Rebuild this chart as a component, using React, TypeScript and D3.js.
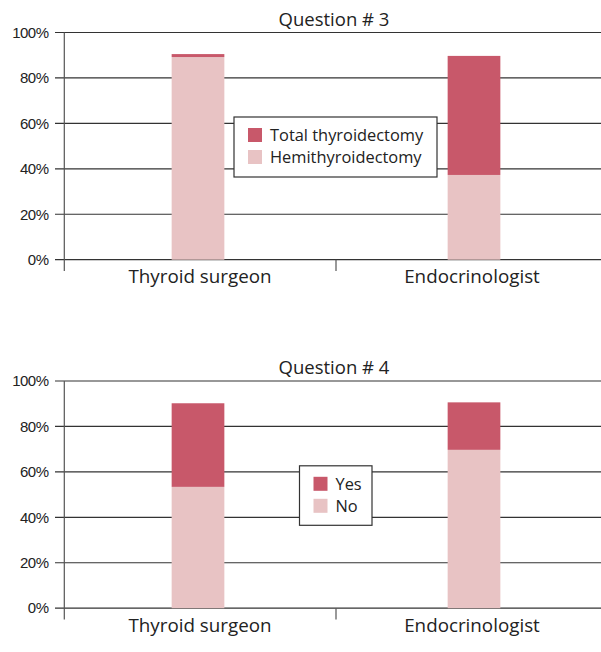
import React from "react";
import * as d3 from "d3";

const categories = ["Thyroid surgeon", "Endocrinologist"];
const yTicks = [0, 20, 40, 60, 80, 100];

const q3Title = "Question # 3";
const q3Series = ["Total thyroidectomy", "Hemithyroidectomy"];
const q3Hemi = [89.2, 37.3];
const q3Total = [1.3, 52.4];

const q4Title = "Question # 4";
const q4Series = ["Yes", "No"];
const q4No = [53.4, 69.7];
const q4Yes = [36.8, 20.9];

const DARK = "#C8586A";
const LIGHT = "#E8C3C4";

type PanelProps = {
  title: string;
  series: string[];
  lower: number[];
  upper: number[];
  offsetY: number;
  legend: { x: number; y: number; w: number; h: number };
};

function Panel({ title, series, lower, upper, offsetY, legend }: PanelProps) {
  const y = d3.scaleLinear().domain([0, 100]).range([259.7, 32.5]);
  const x = d3.scaleBand<string>().domain(categories).range([60, 612]);
  const barW = 52.7;
  const tickFont = "'Liberation Sans', Arial, sans-serif";
  const textFont = "'Open Sans', 'Noto Sans', sans-serif";
  return (
    <g transform={`translate(0,${offsetY})`}>
      {yTicks.map((t) => (
        <g key={t}>
          <line x1={55} x2={601} y1={y(t)} y2={y(t)} stroke="#333" strokeWidth={1.2} />
          <text
            x={48.5}
            y={y(t)}
            dy="0.35em"
            textAnchor="end"
            fontFamily={tickFont}
            fontSize={15}
            fill="#222"
            style={{ letterSpacing: "-0.5px" }}
          >
            {t}%
          </text>
        </g>
      ))}
      {categories.map((c, i) => {
        const cx = (x(c) as number) + x.bandwidth() / 2;
        return (
          <g key={c}>
            <rect x={cx - barW / 2} y={y(lower[i])} width={barW} height={y(0) - y(lower[i])} fill={LIGHT} />
            <rect
              x={cx - barW / 2}
              y={y(lower[i] + upper[i])}
              width={barW}
              height={y(lower[i]) - y(lower[i] + upper[i])}
              fill={DARK}
            />
            <text x={cx + (i === 0 ? 2 : -2)} y={283} textAnchor="middle" fontFamily={textFont} fontSize={18.8} fill="#222">
              {c}
            </text>
          </g>
        );
      })}
      <line x1={64.3} x2={64.3} y1={y(100)} y2={271} stroke="#555" strokeWidth={1.2} />
      <line x1={336} x2={336} y1={y(0)} y2={271} stroke="#555" strokeWidth={1.2} />
      <text x={334} y={25.5} textAnchor="middle" fontFamily={textFont} fontSize={18.5} fill="#222">
        {title}
      </text>
      <rect x={legend.x} y={legend.y} width={legend.w} height={legend.h} fill="#fff" stroke="#333" strokeWidth={1.2} />
      {series.map((s, i) => (
        <g key={s}>
          <rect x={legend.x + 14} y={legend.y + 11 + i * 22} width={14} height={14} fill={i === 0 ? DARK : LIGHT} />
          <text
            x={legend.x + 36}
            y={legend.y + 18 + i * 22}
            dy="0.35em"
            fontFamily={textFont}
            fontSize={16.4}
            fill="#222"
          >
            {s}
          </text>
        </g>
      ))}
    </g>
  );
}

export default function App() {
  return (
    <svg
      width={601}
      height={652}
      style={{ position: "absolute", left: 0, top: 0, background: "#fff" }}
    >
      <Panel
        title={q3Title}
        series={q3Series}
        lower={q3Hemi}
        upper={q3Total}
        offsetY={0}
        legend={{ x: 234, y: 117, w: 203, h: 60 }}
      />
      <Panel
        title={q4Title}
        series={q4Series}
        lower={q4No}
        upper={q4Yes}
        offsetY={348.5}
        legend={{ x: 299.5, y: 117.3, w: 72.5, h: 59.5 }}
      />
    </svg>
  );
}
